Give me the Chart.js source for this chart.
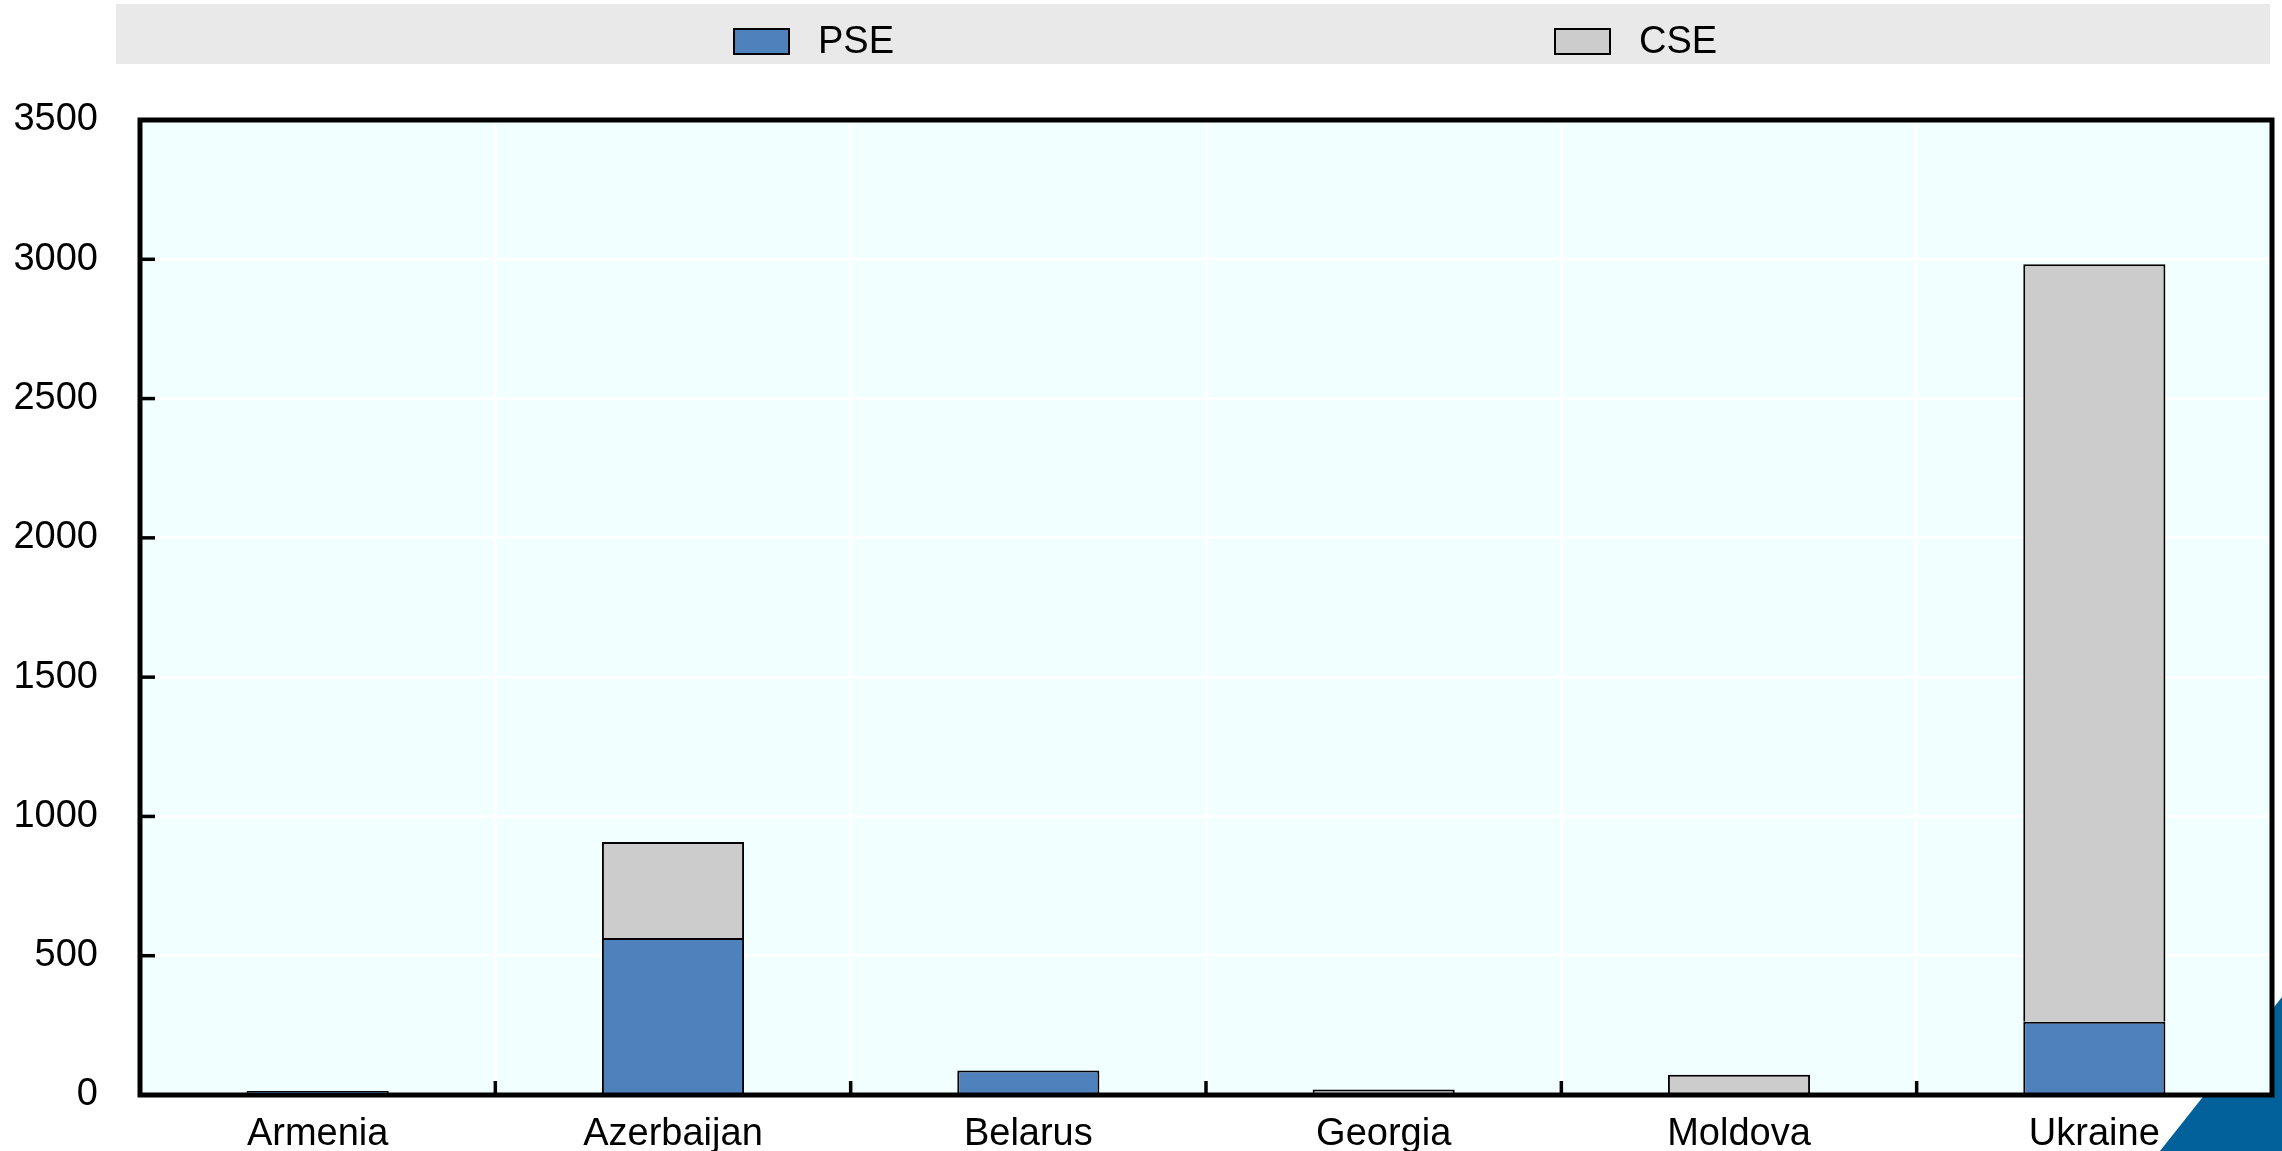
<!DOCTYPE html>
<html>
<head>
<meta charset="utf-8">
<script src="https://cdn.jsdelivr.net/npm/chart.js@4/dist/chart.umd.min.js"></script>
<style>
  html, body { margin: 0; padding: 0; background: #ffffff; }
  #wrap { width: 2282px; height: 1151px; position: relative; }
  canvas { display: block; }
</style>
</head>
<body>
<div id="wrap"><canvas id="c" width="2282" height="1151"></canvas></div>
<script>
const categories = ['Armenia', 'Azerbaijan', 'Belarus', 'Georgia', 'Moldova', 'Ukraine'];
const pseValues = [14, 564, 88, 0, 0, 263];
const cseValues = [0, 344, 0, 20, 73, 2719];
const seriesNames = ['PSE', 'CSE'];
const yTicks = [0, 500, 1000, 1500, 2000, 2500, 3000, 3500];

const FONT = "'Liberation Sans', Arial, sans-serif";
const FONT_SIZE = 38;
const LEGEND_X = [733, 1554];

const decorPlugin = {
  id: 'decor',
  beforeDraw(chart) {
    const ctx = chart.ctx;
    const W = chart.width, H = chart.height;
    const a = chart.chartArea;
    ctx.save();
    ctx.fillStyle = '#ffffff';
    ctx.fillRect(0, 0, W, H);
    // corner triangle
    ctx.fillStyle = '#02619B';
    ctx.beginPath();
    ctx.moveTo(2160, H);
    ctx.lineTo(W, 997);
    ctx.lineTo(W, H);
    ctx.closePath();
    ctx.fill();
    // legend band
    ctx.fillStyle = '#E9E9E9';
    ctx.fillRect(116, 4, 2154, 60);
    // legend items
    ctx.font = FONT_SIZE + 'px ' + FONT;
    ctx.textBaseline = 'middle';
    ctx.textAlign = 'left';
    chart.data.datasets.forEach((ds, i) => {
      const x = LEGEND_X[i];
      ctx.fillStyle = ds.backgroundColor;
      ctx.fillRect(x, 28, 57, 27);
      ctx.lineWidth = 2;
      ctx.strokeStyle = '#000000';
      ctx.strokeRect(x + 1, 29, 55, 25);
      ctx.fillStyle = '#000000';
      ctx.fillText(ds.label, x + 85, 43);
    });
    // plot background
    ctx.fillStyle = '#F2FFFF';
    ctx.fillRect(a.left, a.top, a.right - a.left, a.bottom - a.top);
    ctx.restore();
  },
  afterDatasetsDraw(chart) {
    const ctx = chart.ctx;
    const a = chart.chartArea;
    const xs = chart.scales.x, ys = chart.scales.y;
    ctx.save();
    ctx.strokeStyle = '#000000';
    ctx.lineWidth = 3.5;
    ys.ticks.forEach((t) => {
      const y = ys.getPixelForValue(t.value);
      ctx.beginPath();
      ctx.moveTo(a.left, y);
      ctx.lineTo(a.left + 15, y);
      ctx.stroke();
    });
    const n = chart.data.labels.length;
    for (let i = 1; i < n; i++) {
      const x = (xs.getPixelForValue(i - 1) + xs.getPixelForValue(i)) / 2;
      ctx.beginPath();
      ctx.moveTo(x, a.bottom);
      ctx.lineTo(x, a.bottom - 14);
      ctx.stroke();
    }
    ctx.lineWidth = 5;
    ctx.strokeRect(a.left, a.top, a.right - a.left, a.bottom - a.top);
    ctx.restore();
  }
};

new Chart(document.getElementById('c'), {
  type: 'bar',
  data: {
    labels: categories,
    datasets: [
      {
        label: seriesNames[0],
        data: pseValues,
        backgroundColor: '#4F81BD',
        borderColor: '#000000',
        borderWidth: 2,
        categoryPercentage: 0.8,
        barPercentage: 0.5
      },
      {
        label: seriesNames[1],
        data: cseValues,
        backgroundColor: '#CCCCCC',
        borderColor: '#000000',
        borderWidth: 2,
        categoryPercentage: 0.8,
        barPercentage: 0.5
      }
    ]
  },
  options: {
    responsive: false,
    animation: false,
    events: [],
    layout: { padding: { top: 120, right: 10, left: 0, bottom: 0 } },
    plugins: {
      legend: { display: false },
      tooltip: { enabled: false },
      title: { display: false }
    },
    scales: {
      x: {
        stacked: true,
        grid: { display: true, color: '#ffffff', lineWidth: 3, drawTicks: false, offset: true },
        border: { display: false },
        ticks: {
          color: '#000000',
          font: { family: FONT, size: FONT_SIZE },
          padding: 17,
          maxRotation: 0,
          autoSkip: false
        },
        afterFit(scale) { scale.height = 56; }
      },
      y: {
        stacked: true,
        min: 0,
        max: 3500,
        afterBuildTicks(scale) { scale.ticks = yTicks.map(v => ({ value: v })); },
        grid: { display: true, color: '#ffffff', lineWidth: 3, drawTicks: false },
        border: { display: false },
        ticks: {
          color: '#000000',
          font: { family: FONT, size: FONT_SIZE },
          padding: 42,
          callback: (v) => String(v)
        },
        afterFit(scale) {
          scale.width = 140;
          scale.paddingTop = 0;
          scale.paddingBottom = 0;
        }
      }
    }
  },
  plugins: [decorPlugin]
});
</script>
</body>
</html>
